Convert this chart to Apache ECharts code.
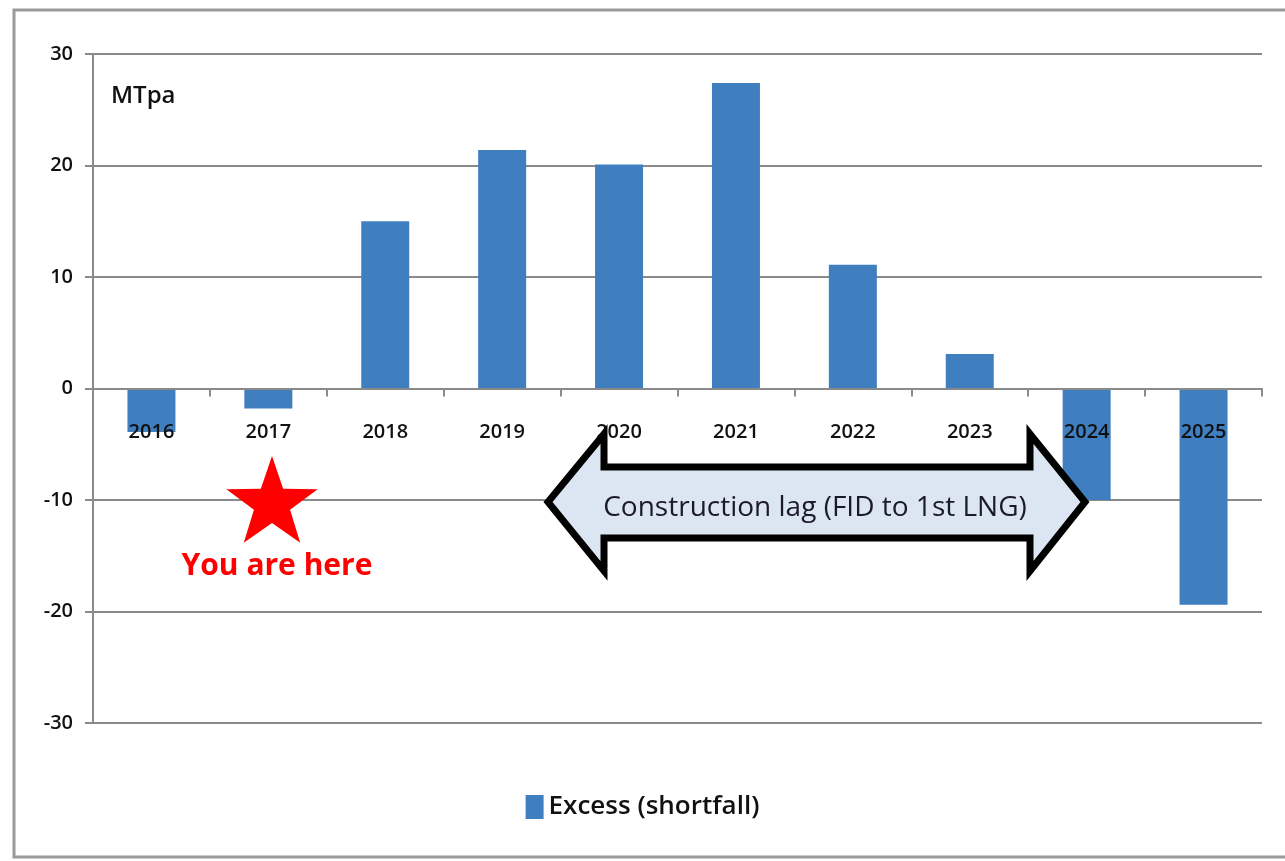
<!DOCTYPE html>
<html>
<head>
<meta charset="utf-8">
<script src="https://cdn.jsdelivr.net/npm/echarts@6/dist/echarts.min.js"></script>
<style>
html,body{margin:0;padding:0;background:#fff;}
#c{width:1285px;height:861px;}
</style>
</head>
<body>
<div id="c"></div>
<script>
var years = ['2016','2017','2018','2019','2020','2021','2022','2023','2024','2025'];
var excess = [-3.9, -1.8, 15.0, 21.4, 20.1, 27.4, 11.1, 3.1, -10.0, -19.4];
var yTicks = [-30, -20, -10, 0, 10, 20, 30];
var seriesName = 'Excess (shortfall)';
var unitLabel = 'MTpa';
var arrowLabel = 'Construction lag (FID to 1st LNG)';
var starLabel = 'You are here';

var FONT = 'Open Sans';
var chart = echarts.init(document.getElementById('c'));

function starPoints(cx, cy, R, r) {
  var pts = [];
  for (var i = 0; i < 10; i++) {
    var a = -Math.PI / 2 + i * Math.PI / 5;
    var rad = i % 2 === 0 ? R : r;
    pts.push([cx + rad * Math.cos(a), cy + rad * Math.sin(a)]);
  }
  return pts;
}

var arrowPts = [
  [548, 502], [604, 434], [604, 467], [1030, 467], [1030, 434],
  [1085, 502], [1030, 571], [1030, 538], [604, 538], [604, 571]
];

var gridTop = 54, gridBottom = 138, chartH = 861;
var plotH = chartH - gridTop - gridBottom;
var zeroOffset = plotH * (0 - (-30)) / 60; // px from bottom to zero

chart.setOption({
  animation: false,
  backgroundColor: '#fff',
  grid: { left: 93, right: 23, top: gridTop, bottom: gridBottom, containLabel: false },
  legend: {
    data: [seriesName],
    bottom: 36,
    left: 'center',
    itemWidth: 18, itemHeight: 24,
    icon: 'rect',
    itemGap: 8,
    textStyle: { fontFamily: FONT, fontSize: 26, fontWeight: 600, color: '#111' }
  },
  xAxis: {
    type: 'category',
    data: years,
    position: 'bottom',
    offset: -zeroOffset,
    axisLine: { onZero: false, lineStyle: { color: '#8a8a8a', width: 2 } },
    axisTick: { show: true, length: 8, lineStyle: { color: '#8a8a8a', width: 2 } },
    axisLabel: { fontFamily: FONT, fontSize: 20, fontWeight: 600, color: '#111', margin: 34 },
    z: 10
  },
  yAxis: {
    type: 'value',
    min: -30, max: 30, interval: 10,
    axisLine: { show: true, lineStyle: { color: '#8a8a8a', width: 2 } },
    axisTick: { show: true, length: 8, inside: false, lineStyle: { color: '#8a8a8a', width: 2 } },
    splitLine: { lineStyle: { color: '#8a8a8a', width: 2 } },
    axisLabel: { fontFamily: FONT, fontSize: 20, fontWeight: 600, color: '#111', margin: 20,
      formatter: function (v) { return yTicks.indexOf(v) >= 0 ? String(v) : ''; } }
  },
  series: [{
    name: seriesName,
    type: 'bar',
    data: excess,
    barWidth: 48,
    itemStyle: { color: '#3f7fc0' },
    z: 2
  }],
  graphic: [
    { type: 'rect', shape: { x: 14, y: 10, width: 1280, height: 847 },
      style: { fill: 'none', stroke: '#9a9a9a', lineWidth: 3 }, z: 0, silent: true },
    { type: 'text', left: 111, top: 84,
      style: { text: unitLabel, fontFamily: FONT, fontSize: 24, fontWeight: 600, fill: '#111' }, z: 20 },
    { type: 'polygon', shape: { points: starPoints(272, 504, 48, 19) },
      style: { fill: '#ff0000', stroke: 'none' }, z: 20 },
    { type: 'text', x: 277, y: 566,
      style: { text: starLabel, fontFamily: FONT, fontSize: 30, fontWeight: 'bold',
        fill: '#ff0000', align: 'center', verticalAlign: 'middle' }, z: 20 },
    { type: 'polygon', shape: { points: arrowPts },
      style: { fill: '#dce6f2', stroke: '#000', lineWidth: 7, lineJoin: 'miter' }, z: 20 },
    { type: 'text', x: 815, y: 508,
      style: { text: arrowLabel, fontFamily: FONT, fontSize: 28, fontWeight: 500, fill: '#1a1a2a',
        align: 'center', verticalAlign: 'middle' }, z: 21 }
  ]
});
</script>
</body>
</html>
